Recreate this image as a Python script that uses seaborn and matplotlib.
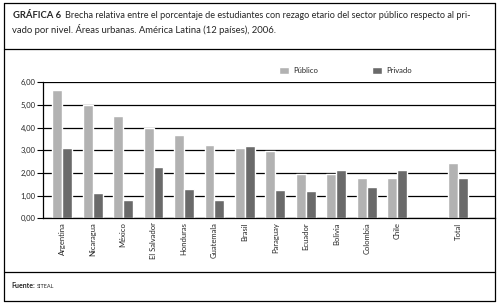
import matplotlib
matplotlib.use("Agg")
import matplotlib.pyplot as plt
import seaborn as sns
import pandas as pd
from matplotlib.lines import Line2D

categories = ["Argentina", "Nicaragua", "México", "El Salvador", "Honduras",
              "Guatemala", "Brasil", "Paraguay", "Ecuador", "Bolivia",
              "Colombia", "Chile", "Total"]
publico = [5.66, 4.99, 4.51, 3.97, 3.67, 3.23, 3.10, 2.99, 1.96, 1.96, 1.76, 1.80, 2.46]
privado = [3.10, 1.12, 0.81, 2.28, 1.31, 0.81, 3.19, 1.27, 1.19, 2.15, 1.36, 2.11, 1.80]
series_names = ["Público", "Privado"]
yticks = [0, 1, 2, 3, 4, 5, 6]
ytick_labels = ["0,00", "1,00", "2,00", "3,00", "4,00", "5,00", "6,00"]

df = pd.DataFrame({
    "Categoria": categories * 2,
    "Sector": [series_names[0]] * len(categories) + [series_names[1]] * len(categories),
    "Valor": publico + privado,
})
order = categories[:-1] + [" "] + [categories[-1]]

sns.set_theme(style="white")
plt.rcParams["font.family"] = ["Lato", "DejaVu Sans"]

W, H = 501, 305
fig = plt.figure(figsize=(W / 100, H / 100), dpi=100)
ax = fig.add_axes([43 / W, 1 - 218.3 / H, (495 - 43) / W, 136 / H])

sns.barplot(data=df, x="Categoria", y="Valor", hue="Sector", order=order,
            hue_order=series_names, palette=["#b2b2b2", "#6a6a6a"],
            width=0.65, saturation=1, ax=ax, legend=True)

ax.set_ylim(0, 6)
ax.set_xlim(-0.63, 14.21)
ax.set_yticks(yticks)
ax.set_yticklabels(ytick_labels, fontsize=5.5)
ax.set_xticks(range(len(order)))
ax.set_xticklabels(order, rotation=90, fontsize=5.5, va="top", ha="center")
ax.tick_params(axis="x", length=0, pad=3)
ax.tick_params(axis="y", length=4, width=0.8, color="black", pad=1.5, left=True)
ax.set_xlabel("")
ax.set_ylabel("")
ax.set_axisbelow(True)
ax.yaxis.grid(True, color="black", linewidth=0.9)
ax.xaxis.grid(False)
for s in ["top", "right"]:
    ax.spines[s].set_visible(False)
for s in ["left", "bottom"]:
    ax.spines[s].set_color("black")
    ax.spines[s].set_linewidth(0.9)

handles, labels = ax.get_legend_handles_labels()
ax.get_legend().remove()
fig.legend(handles, labels, loc="center left", bbox_to_anchor=(279 / W, 1 - 70.5 / H),
           ncol=2, frameon=False, fontsize=5.5, handlelength=1.3, handleheight=1.2,
           handletextpad=0.6, columnspacing=7.0, borderaxespad=0, borderpad=0)

def hline(y, x0=4, x1=495):
    fig.add_artist(Line2D([x0 / W, x1 / W], [1 - y / H, 1 - y / H], color="black", lw=0.9))

def vline(x, y0=3, y1=300.5):
    fig.add_artist(Line2D([x / W, x / W], [1 - y0 / H, 1 - y1 / H], color="black", lw=0.9))

hline(3)
hline(49)
hline(271.7)
hline(300.5)
vline(4)
vline(495)

renderer = fig.canvas.get_renderer()

def follow(prev, gap_px, y, s, **kw):
    bb = prev.get_window_extent(renderer=renderer)
    x = (bb.x1 + gap_px) / W
    return fig.text(x, y, s, **kw)

t1 = fig.text(13 / W, 1 - 16 / H, "GRÁFICA 6", fontsize=6.8, fontweight="bold",
              va="center", ha="left")
follow(t1, 4, 1 - 16 / H,
       "Brecha relativa entre el porcentaje de estudiantes con rezago etario del sector público respecto al pri-",
       fontsize=6.6, va="center", ha="left")
fig.text(12 / W, 1 - 29.5 / H,
         "vado por nivel. Áreas urbanas. América Latina (12 países), 2006.",
         fontsize=6.8, va="center", ha="left")
f1 = fig.text(11 / W, 1 - 286 / H, "Fuente:", fontsize=5, fontweight="bold", va="center", ha="left")
follow(f1, 2, 1 - 286 / H, "SITEAL", fontsize=4, va="center", ha="left")

fig.savefig("out.png", dpi=100)
